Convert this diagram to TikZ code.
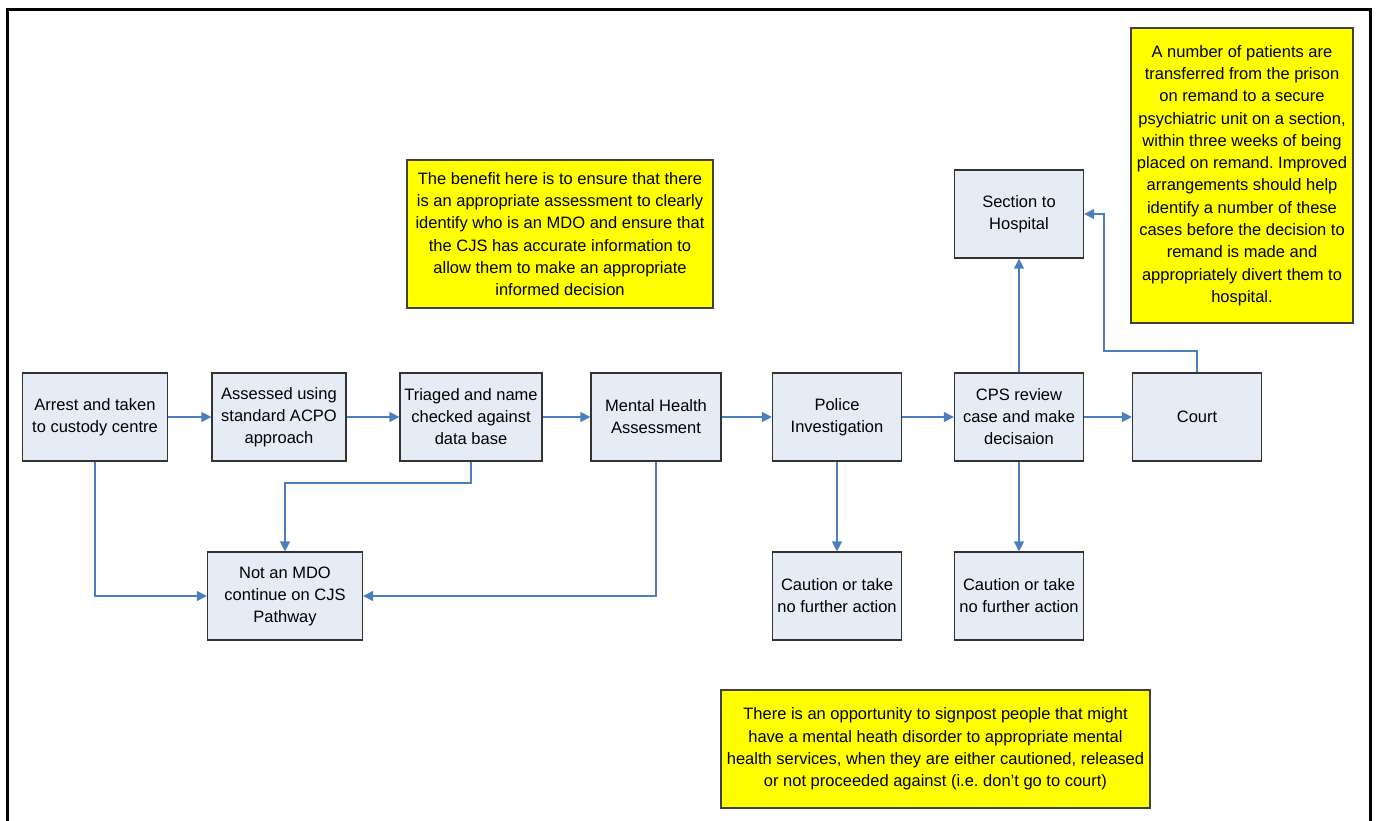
\documentclass[tikz,border=0pt]{standalone}
\usepackage{fontspec}
\setmainfont{Liberation Sans}
\frenchspacing
\usetikzlibrary{arrows.meta}
\definecolor{boxfill}{HTML}{E6ECF6}
\definecolor{linkblue}{HTML}{4A7EBF}
\definecolor{noteyellow}{HTML}{FFFF00}
\tikzset{
  stepbox/.style={draw=black!80, line width=1.3pt, fill=boxfill, inner sep=0pt,
    minimum height=88pt, align=center, font=\fontsize{16.5}{22}\selectfont},
  notebox/.style={draw=black!75, line width=1.3pt, fill=noteyellow, inner sep=0pt,
    align=center, font=\fontsize{16.5}{22.3}\selectfont},
  link/.style={draw=linkblue, line width=1.3pt, -{Triangle[length=10pt,width=10pt]}}
}
\begin{document}
\begin{tikzpicture}[x=1pt,y=-1pt]
		%%%%% START %%%%%
		\useasboundingbox (0,0) rectangle (1377,821);
		\draw[line width=3pt] (7,821) -- (7,10) -- (1370,10) -- (1370,821);
		
		%%%%% MAIN ROW %%%%%
		\node[stepbox, minimum width=145pt] (arrest) at (95,417) {Arrest and taken\\to custody centre};
		\node[stepbox, minimum width=134pt] (assess) at (279,417) {Assessed using\\standard ACPO\\approach};
		\node[stepbox, minimum width=142pt] (triage) at (471,417) {Triaged and name\\checked against\\data base};
		\node[stepbox, minimum width=130pt] (mha) at (656,417) {Mental Health\\Assessment};
		\node[stepbox, minimum width=129pt] (police) at (837,417) {Police\\Investigation};
		\node[stepbox, minimum width=129pt] (cps) at (1019,417) {CPS review\\case and make\\decisaion};
		\node[stepbox, minimum width=129pt] (court) at (1197,417) {Court};
		
		%%%%% OTHER BOXES %%%%%
		\node[stepbox, minimum width=129pt] (section) at (1019,214) {Section to\\Hospital};
		\node[stepbox, minimum width=155pt] (notmdo) at (285,596) {Not an MDO\\continue on CJS\\Pathway};
		\node[stepbox, minimum width=129pt] (caution1) at (837,596) {Caution or take\\no further action};
		\node[stepbox, minimum width=129pt] (caution2) at (1019,596) {Caution or take\\no further action};
		
		%%%%% NOTES %%%%%
		\node[notebox, minimum width=306pt, minimum height=148pt] (benefit) at (560,234)
		  {The benefit here is to ensure that there\\is an appropriate assessment to clearly\\identify who is an MDO and ensure that\\the CJS has accurate information to\\allow them to make an appropriate\\informed decision};
		\node[notebox, minimum width=222pt, minimum height=295pt] (remand) at (1242,175.5)
		  {A number of patients are\\transferred from the prison\\on remand to a secure\\psychiatric unit on a section,\\within three weeks of being\\placed on remand. Improved\\arrangements should help\\identify a number of these\\cases before the decision to\\remand is made and\\appropriately divert them to\\hospital.};
		\node[notebox, minimum width=429pt, minimum height=118pt] (signpost) at (935.5,749)
		  {There is an opportunity to signpost people that might\\have a mental heath disorder to appropriate mental\\health services, when they are either cautioned, released\\or not proceeded against (i.e. don’t go to court)};
		
		%%%%% LINKS %%%%%
		\draw[link] (arrest) -- (assess);
		\draw[link] (assess) -- (triage);
		\draw[link] (triage) -- (mha);
		\draw[link] (mha) -- (police);
		\draw[link] (police) -- (cps);
		\draw[link] (cps) -- (court);
		\draw[link] (cps) -- (section);
		\draw[link] (police) -- (caution1);
		\draw[link] (cps) -- (caution2);
		
		\draw[link] (arrest.south) |- (notmdo.west);
		\draw[link] (mha.south) |- (notmdo.east);
		\coordinate (triagebend) at (471,483);
		\draw[link] (triage.south) -- (triagebend) -| (notmdo.north);
		\coordinate (courtbend) at (1104,351);
		\draw[link] (court.north) |- (courtbend) |- (section.east);
		%%%%% END %%%%%
\end{tikzpicture}
\end{document}
